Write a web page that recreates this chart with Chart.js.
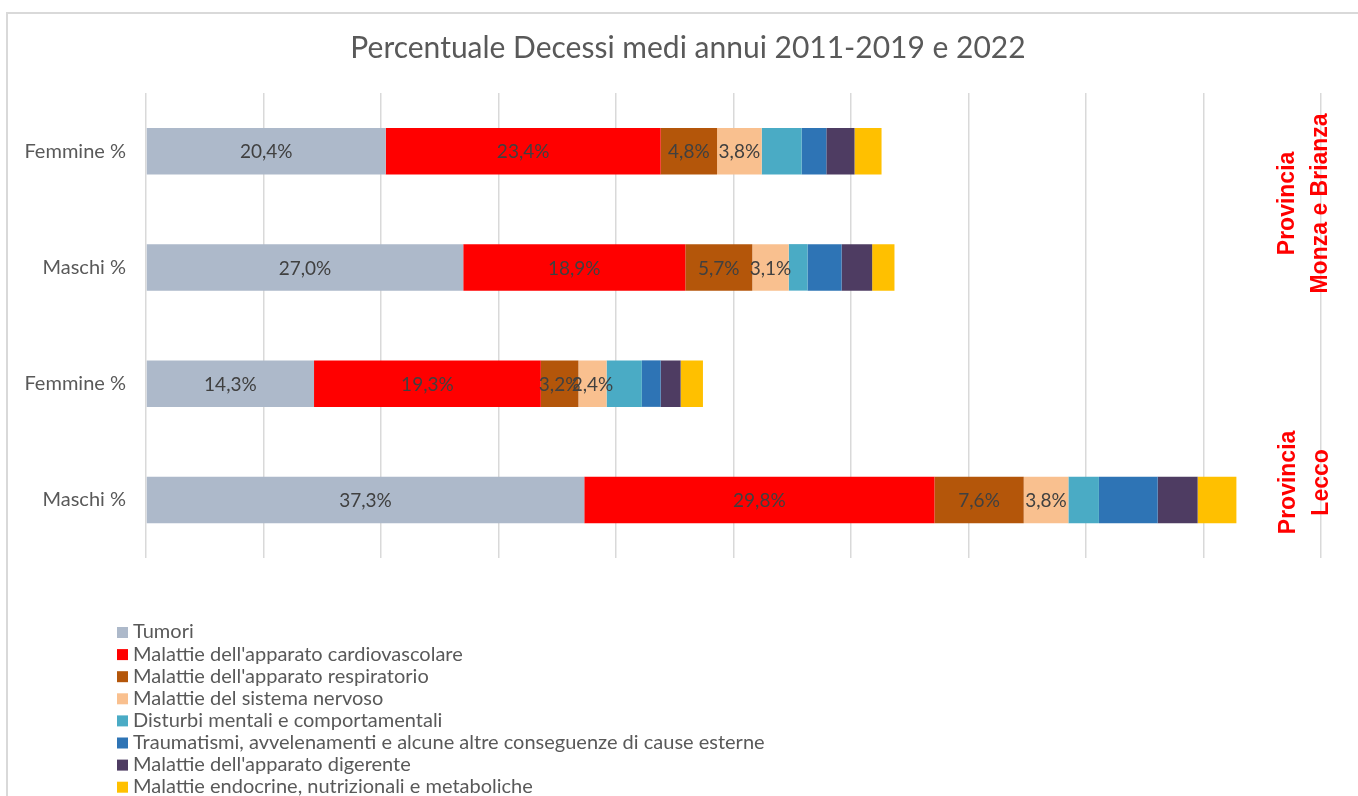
<!DOCTYPE html>
<html>
<head>
<meta charset="utf-8">
<script src="https://cdn.jsdelivr.net/npm/chart.js@4.4.1/dist/chart.umd.min.js"></script>
<style>
  html, body { margin: 0; padding: 0; background: #fff; }
  #wrap { width: 1358px; height: 796px; position: relative; }
</style>
</head>
<body>
<div id="wrap"><canvas id="decessi"></canvas></div>
<script>
const categories = ['Femmine %', 'Maschi %', 'Femmine %', 'Maschi %'];
const causes = [
  'Tumori',
  "Malattie dell'apparato cardiovascolare",
  "Malattie dell'apparato respiratorio",
  'Malattie del sistema nervoso',
  'Disturbi mentali e comportamentali',
  'Traumatismi, avvelenamenti e alcune altre conseguenze di cause esterne',
  "Malattie dell'apparato digerente",
  'Malattie endocrine, nutrizionali e metaboliche'
];
// one array per cause, rows: Monza F, Monza M, Lecco F, Lecco M
const tumori = [20.4, 27.0, 14.3, 37.3];
const cardio = [23.4, 18.9, 19.3, 29.8];
const respiratorio = [4.8, 5.7, 3.2, 7.6];
const nervoso = [3.8, 3.1, 2.4, 3.8];
const mentali = [3.4, 1.6, 3.0, 2.6];
const traumatismi = [2.1, 2.9, 1.6, 5.0];
const digerente = [2.4, 2.6, 1.7, 3.4];
const endocrine = [2.3, 1.9, 1.9, 3.3];
const xTicks = [0, 10, 20, 30, 40, 50, 60, 70, 80, 90, 100];
const provinces = [['Provincia', 'Monza e Brianza'], ['Provincia', 'Lecco']];
const titleText = 'Percentuale Decessi medi annui 2011-2019 e 2022';

const seriesValues = [tumori, cardio, respiratorio, nervoso, mentali, traumatismi, digerente, endocrine];
const colors = ['#adb9ca', '#ff0000', '#b4560a', '#f9c08f', '#4aabc5', '#2e74b5', '#4e3c62', '#ffc000'];
const labelled = 4; // only the first four causes carry value labels

const FONT = 'Lato, "Liberation Sans", sans-serif';

const bgAndFrame = {
  id: 'bgAndFrame',
  beforeDraw(chart) {
    const c = chart.ctx;
    c.save();
    c.fillStyle = '#fff';
    c.fillRect(0, 0, chart.width, chart.height);
    c.strokeStyle = '#d9d9d9';
    c.lineWidth = 2;
    c.strokeRect(7, 13, chart.width + 20, chart.height + 20);
    // title, centred on the framed box rather than the plot
    c.fillStyle = '#595959';
    c.font = '30px ' + FONT;
    c.textAlign = 'center';
    c.textBaseline = 'middle';
    c.fillText(titleText, 688, 48);
    c.restore();
  }
};

const valueLabels = {
  id: 'valueLabels',
  afterDatasetsDraw(chart) {
    const c = chart.ctx;
    c.save();
    c.font = '19px ' + FONT;
    c.fillStyle = '#404040';
    c.textAlign = 'center';
    c.textBaseline = 'middle';
    chart.data.datasets.forEach((ds, i) => {
      if (i >= labelled) return;
      chart.getDatasetMeta(i).data.forEach((bar, j) => {
        const v = ds.data[j];
        const cx = (bar.x + bar.base) / 2;
        c.fillText(v.toFixed(1).replace('.', ',') + '%', cx, bar.y + 1);
      });
    });
    c.restore();
  }
};

const sideLegend = {
  id: 'sideLegend',
  afterDraw(chart) {
    const c = chart.ctx;
    const y = chart.scales.y;
    c.save();
    // province names, rotated
    c.fillStyle = '#ff0000';
    c.font = 'bold 23px "Liberation Sans", Arial, sans-serif';
    c.textAlign = 'center';
    c.textBaseline = 'middle';
    const spots = [[1288, y.getPixelForValue(0.45)], [1289, y.getPixelForValue(2.85)]];
    provinces.forEach((lines, k) => {
      c.save();
      c.translate(spots[k][0], spots[k][1]);
      c.rotate(-Math.PI / 2);
      lines.forEach((t, n) => c.fillText(t, 0, n * 33));
      c.restore();
    });
    // legend list under the plot
    c.font = '20px ' + FONT;
    c.textAlign = 'left';
    c.textBaseline = 'middle';
    chart.data.datasets.forEach((ds, i) => {
      const ly = 632 + i * 22.1;
      c.fillStyle = ds.backgroundColor;
      c.fillRect(117, ly - 5, 11, 11);
      c.fillStyle = '#595959';
      c.fillText(ds.label, 133, ly);
    });
    c.restore();
  }
};

const ctxDecessi = document.getElementById('decessi');
if (ctxDecessi) {
  const config = {
    type: 'bar',
    data: {
      labels: categories,
      datasets: seriesValues.map((vals, i) => ({
        label: causes[i],
        data: vals,
        backgroundColor: colors[i],
        borderWidth: 0,
        barPercentage: 0.4,
        categoryPercentage: 1
      }))
    },
    plugins: [bgAndFrame, valueLabels, sideLegend],
    options: {
      indexAxis: 'y',
      responsive: true,
      maintainAspectRatio: false,
      animation: false,
      layout: { padding: { left: 0, right: 37, top: 93, bottom: 238 } },
      plugins: {
        legend: { display: false },
        tooltip: { enabled: false },
        title: { display: false }
      },
      scales: {
        x: {
          stacked: true,
          min: 0,
          max: 100,
          afterBuildTicks(scale) { scale.ticks = xTicks.map(v => ({ value: v })); },
          ticks: { display: false },
          grid: { color: '#d9d9d9', lineWidth: 1.5, drawTicks: false },
          border: { display: false }
        },
        y: {
          stacked: true,
          afterFit(scale) { scale.width = 146; },
          ticks: { color: '#595959', padding: 20, font: { family: FONT, size: 20 } },
          grid: { display: false, drawTicks: false },
          border: { display: false }
        }
      }
    }
  };
  window.myBar = new Chart(ctxDecessi, config);
}
</script>
</body>
</html>
